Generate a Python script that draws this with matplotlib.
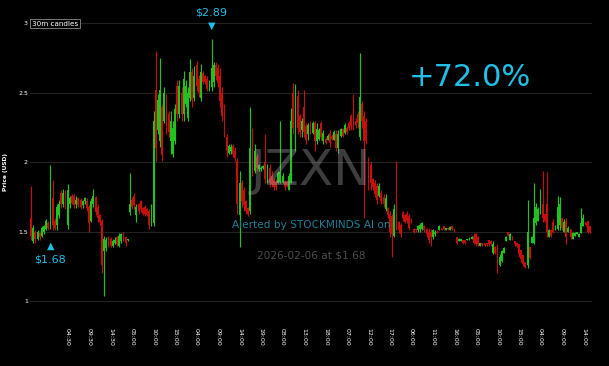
import matplotlib
matplotlib.use("Agg")
import matplotlib.pyplot as plt
import numpy as np

opens = [
    1.60, 1.43, 1.50, 1.45, 1.49, 1.47, 1.50, 1.52, 1.56, 1.58,
    1.74, 1.58, 1.55, 1.62, 1.78, 1.70, 1.78, 1.55, 1.70, 1.76,
    1.76, 1.70, 1.74, 1.73, 1.69, 1.72, 1.72, 1.68, 1.58, 1.70,
    1.75, 1.68, 1.62, 1.58, 1.36, 1.38, 1.46, 1.45, 1.40, 1.42,
    1.46, 1.40, 1.43, 1.49, 1.46, 1.44, 1.64, 1.73, 1.76, 1.62,
    1.70, 1.72, 1.67, 1.68, 1.66, 1.65, 1.55, 1.56, 2.52, 2.23,
    2.15, 2.40, 2.30, 2.45, 2.35, 2.15, 2.06, 2.15, 2.55, 2.35,
    2.50, 2.35, 2.42, 2.32, 2.46, 2.65, 2.46, 2.70, 2.60, 2.46,
    2.64, 2.62, 2.60, 2.52, 2.54, 2.58, 2.70, 2.68, 2.62, 2.50,
    2.38, 2.18, 2.07, 2.08, 2.12, 2.08, 2.01, 1.62, 1.85, 1.80,
    1.72, 1.67, 1.65, 2.20, 1.94, 2.04, 1.95, 1.95, 1.96, 2.00,
    1.86, 1.96, 1.90, 1.87, 1.86, 1.85, 1.86, 1.86, 1.86, 1.86,
    1.80, 1.85, 2.50, 2.10, 2.48, 2.33, 2.23, 2.40, 2.26, 2.20,
    2.29, 2.21, 2.28, 2.15, 2.17, 2.28, 2.15, 2.17, 2.16, 2.21,
    2.19, 2.16, 2.20, 2.10, 2.19, 2.24, 2.21, 2.25, 2.28, 2.33,
    2.35, 2.30, 2.35, 2.18, 2.42, 2.33, 2.30, 2.02, 1.98, 1.88,
    1.85, 1.83, 1.76, 1.78, 1.75, 1.66, 1.67, 1.63, 1.61, 1.47,
    1.60, 1.57, 1.55, 1.64, 1.62, 1.63, 1.61, 1.59, 1.52, 1.52,
    1.51, 1.52, 1.52, 1.54, 1.52, 1.50, 1.50, 1.46, 1.48, 1.50,
    1.51, 1.53, 1.54, 1.51, 1.53, 1.515, 1.54, 1.52, 1.46, 1.435,
    1.435, 1.44, 1.44, 1.44, 1.44, 1.45, 1.47, 1.48, 1.46, 1.40,
    1.415, 1.42, 1.42, 1.44, 1.43, 1.35, 1.39, 1.38, 1.26, 1.29,
    1.35, 1.43, 1.50, 1.44, 1.47, 1.43, 1.42, 1.41, 1.37, 1.33,
    1.28, 1.26, 1.39, 1.42, 1.42, 1.56, 1.58, 1.65, 1.70, 1.63,
    1.70, 1.46, 1.51, 1.57, 1.51, 1.52, 1.55, 1.60, 1.50, 1.58,
    1.50, 1.52, 1.45, 1.47, 1.48, 1.46, 1.49, 1.54, 1.57, 1.58, 1.54,
]
highs = [
    1.83, 1.55, 1.51, 1.51, 1.50, 1.54, 1.55, 1.59, 1.58, 1.98,
    1.87, 1.60, 1.70, 1.73, 1.80, 1.81, 1.80, 1.84, 1.76, 1.77,
    1.77, 1.76, 1.75, 1.74, 1.73, 1.75, 1.74, 1.69, 1.74, 1.81,
    1.76, 1.70, 1.63, 1.59, 1.47, 1.46, 1.47, 1.46, 1.45, 1.46,
    1.47, 1.49, 1.49, 1.50, 1.47, 1.45, 1.92, 1.75, 1.78, 1.70,
    1.71, 1.73, 1.68, 1.69, 1.67, 1.66, 1.70, 2.37, 2.80, 2.49,
    2.75, 2.42, 2.54, 2.49, 2.37, 2.37, 2.30, 2.42, 2.59, 2.59,
    2.54, 2.66, 2.59, 2.54, 2.74, 2.68, 2.69, 2.73, 2.63, 2.71,
    2.66, 2.63, 2.62, 2.59, 2.89, 2.72, 2.72, 2.71, 2.68, 2.54,
    2.42, 2.20, 2.13, 2.13, 2.13, 2.11, 2.03, 1.94, 1.87, 1.82,
    1.73, 1.68, 2.40, 2.25, 2.13, 2.06, 1.99, 1.97, 1.98, 2.20,
    1.99, 1.99, 1.94, 1.89, 1.88, 1.94, 2.30, 1.92, 1.87, 1.87,
    1.92, 2.39, 2.57, 2.56, 2.52, 2.35, 2.32, 2.52, 2.28, 2.28,
    2.30, 2.30, 2.30, 2.28, 2.25, 2.30, 2.23, 2.18, 2.20, 2.23,
    2.20, 2.23, 2.23, 2.23, 2.25, 2.25, 2.28, 2.26, 2.30, 2.35,
    2.49, 2.32, 2.37, 2.79, 2.44, 2.37, 2.32, 2.04, 2.01, 1.89,
    1.87, 1.85, 1.85, 1.80, 1.77, 1.77, 1.68, 1.65, 1.63, 1.70,
    2.01, 1.58, 1.56, 1.65, 1.63, 1.65, 1.63, 1.60, 1.53, 1.52,
    1.55, 1.56, 1.57, 1.55, 1.53, 1.53, 1.52, 1.52, 1.51, 1.51,
    1.55, 1.53, 1.54, 1.53, 1.53, 1.54, 1.54, 1.52, 1.46, 1.455,
    1.45, 1.44, 1.44, 1.45, 1.46, 1.47, 1.49, 1.49, 1.47, 1.42,
    1.42, 1.42, 1.42, 1.44, 1.44, 1.43, 1.40, 1.41, 1.34, 1.37,
    1.39, 1.47, 1.50, 1.49, 1.47, 1.43, 1.42, 1.41, 1.37, 1.33,
    1.28, 1.73, 1.39, 1.47, 1.85, 1.71, 1.68, 1.81, 1.94, 1.63,
    1.93, 1.52, 1.51, 1.59, 1.55, 1.76, 1.75, 1.60, 1.59, 1.60,
    1.54, 1.52, 1.50, 1.50, 1.50, 1.49, 1.67, 1.63, 1.57, 1.58, 1.54,
]
lows = [
    1.44, 1.42, 1.42, 1.44, 1.44, 1.46, 1.48, 1.51, 1.51, 1.52,
    1.51, 1.51, 1.51, 1.60, 1.67, 1.68, 1.66, 1.52, 1.67, 1.70,
    1.67, 1.67, 1.68, 1.66, 1.67, 1.70, 1.65, 1.50, 1.57, 1.68,
    1.62, 1.57, 1.55, 1.20, 1.04, 1.36, 1.39, 1.39, 1.39, 1.41,
    1.40, 1.39, 1.42, 1.43, 1.40, 1.43, 1.62, 1.66, 1.66, 1.57,
    1.63, 1.64, 1.62, 1.61, 1.61, 1.52, 1.54, 1.54, 2.01, 2.20,
    2.11, 2.01, 2.28, 2.20, 2.18, 2.06, 2.04, 2.13, 2.30, 2.32,
    2.30, 2.30, 2.40, 2.30, 2.44, 2.40, 2.44, 2.51, 2.47, 2.44,
    2.56, 2.56, 2.51, 2.51, 2.51, 2.54, 2.59, 2.54, 2.40, 2.30,
    2.18, 2.04, 2.06, 2.06, 2.04, 2.01, 1.63, 1.39, 1.68, 1.65,
    1.63, 1.61, 1.63, 1.90, 1.92, 1.94, 1.94, 1.94, 1.95, 1.85,
    1.85, 1.82, 1.82, 1.80, 1.80, 1.85, 1.85, 1.85, 1.80, 1.82,
    1.80, 1.85, 2.20, 2.08, 2.20, 2.18, 2.18, 2.18, 2.13, 2.16,
    2.20, 2.20, 2.08, 2.13, 2.16, 2.16, 2.13, 2.13, 2.16, 2.11,
    2.16, 2.16, 2.08, 2.07, 2.18, 2.18, 2.20, 2.20, 2.23, 2.23,
    2.23, 2.25, 2.25, 2.16, 2.25, 1.60, 2.13, 1.80, 1.80, 1.80,
    1.75, 1.70, 1.75, 1.70, 1.68, 1.65, 1.60, 1.46, 1.32, 1.46,
    1.51, 1.49, 1.46, 1.58, 1.56, 1.56, 1.51, 1.56, 1.49, 1.50,
    1.50, 1.50, 1.51, 1.50, 1.46, 1.42, 1.40, 1.45, 1.47, 1.49,
    1.51, 1.51, 1.515, 1.51, 1.515, 1.515, 1.515, 1.50, 1.41, 1.435,
    1.435, 1.41, 1.41, 1.44, 1.44, 1.45, 1.41, 1.40, 1.40, 1.40,
    1.40, 1.40, 1.40, 1.40, 1.40, 1.34, 1.34, 1.20, 1.25, 1.28,
    1.35, 1.43, 1.47, 1.44, 1.44, 1.40, 1.39, 1.32, 1.28, 1.25,
    1.235, 1.24, 1.30, 1.42, 1.41, 1.55, 1.58, 1.63, 1.57, 1.57,
    1.46, 1.46, 1.46, 1.49, 1.51, 1.51, 1.51, 1.51, 1.50, 1.41,
    1.50, 1.45, 1.45, 1.47, 1.48, 1.46, 1.49, 1.54, 1.54, 1.49, 1.49,
]
closes = [
    1.47, 1.53, 1.45, 1.50, 1.46, 1.53, 1.54, 1.58, 1.53, 1.80,
    1.55, 1.53, 1.68, 1.70, 1.70, 1.78, 1.68, 1.80, 1.74, 1.71,
    1.69, 1.73, 1.69, 1.68, 1.72, 1.74, 1.67, 1.56, 1.72, 1.76,
    1.64, 1.60, 1.57, 1.26, 1.45, 1.44, 1.41, 1.40, 1.43, 1.44,
    1.41, 1.47, 1.48, 1.45, 1.42, 1.45, 1.70, 1.68, 1.69, 1.68,
    1.65, 1.66, 1.63, 1.63, 1.62, 1.55, 1.68, 2.30, 2.10, 2.45,
    2.52, 2.05, 2.50, 2.25, 2.22, 2.30, 2.25, 2.38, 2.35, 2.55,
    2.35, 2.60, 2.55, 2.50, 2.65, 2.45, 2.62, 2.55, 2.50, 2.65,
    2.58, 2.58, 2.53, 2.57, 2.68, 2.70, 2.62, 2.57, 2.44, 2.33,
    2.21, 2.08, 2.12, 2.11, 2.06, 2.03, 1.70, 1.85, 1.72, 1.69,
    1.65, 1.63, 2.10, 1.95, 2.08, 1.96, 1.98, 1.96, 1.97, 1.88,
    1.95, 1.85, 1.84, 1.82, 1.82, 1.92, 1.93, 1.90, 1.82, 1.83,
    1.90, 2.30, 2.25, 2.45, 2.25, 2.22, 2.30, 2.22, 2.16, 2.27,
    2.22, 2.28, 2.15, 2.24, 2.23, 2.18, 2.21, 2.14, 2.19, 2.14,
    2.17, 2.22, 2.10, 2.20, 2.24, 2.19, 2.27, 2.22, 2.25, 2.26,
    2.27, 2.27, 2.28, 2.47, 2.30, 2.15, 2.15, 1.83, 1.85, 1.82,
    1.77, 1.73, 1.83, 1.72, 1.70, 1.74, 1.62, 1.50, 1.48, 1.66,
    1.53, 1.51, 1.48, 1.60, 1.57, 1.58, 1.53, 1.57, 1.50, 1.51,
    1.54, 1.55, 1.56, 1.51, 1.48, 1.44, 1.46, 1.51, 1.50, 1.49,
    1.54, 1.515, 1.52, 1.53, 1.52, 1.535, 1.52, 1.505, 1.42, 1.45,
    1.445, 1.415, 1.42, 1.45, 1.455, 1.465, 1.42, 1.41, 1.41, 1.415,
    1.405, 1.405, 1.41, 1.41, 1.41, 1.41, 1.35, 1.24, 1.32, 1.36,
    1.38, 1.46, 1.475, 1.48, 1.445, 1.41, 1.395, 1.34, 1.30, 1.27,
    1.245, 1.50, 1.31, 1.46, 1.60, 1.68, 1.66, 1.72, 1.60, 1.58,
    1.50, 1.51, 1.47, 1.50, 1.54, 1.68, 1.70, 1.53, 1.57, 1.46,
    1.53, 1.46, 1.49, 1.49, 1.495, 1.48, 1.56, 1.60, 1.55, 1.50, 1.50,
]

tick_labels = ["04:30", "09:30", "14:30", "05:00", "10:00", "15:00", "04:00",
               "09:00", "14:00", "19:00", "08:00", "13:00", "18:00", "07:00",
               "12:00", "17:00", "06:00", "11:00", "16:00", "05:00", "10:00",
               "15:00", "04:00", "09:00", "14:00"]
tick_idx = [17 + 10 * k for k in range(len(tick_labels))]

y_ticks = [1, 1.5, 2, 2.5, 3]
y_tick_labels = ["1", "1.5", "2", "2.5", "3"]

peak_idx, peak_price = 84, 2.89
alert_idx, alert_price = 9, 1.68
pct_change = "+72.0%"
ticker = "JZXN"

GREEN = "#1fc21f"
RED = "#c40f0f"
CYAN = "#1fbfe8"

o = np.array(opens); h = np.array(highs); l = np.array(lows); c = np.array(closes)
x = np.arange(len(o))
up = c >= o
cols = np.where(up, GREEN, RED)

fig = plt.figure(figsize=(6.09, 3.66), dpi=100, facecolor="black")
ax = fig.add_axes([30 / 609, 1 - 310 / 366, 562 / 609, 291.5 / 366])
ax.set_facecolor("black")
ax.set_xlim(-0.5, 261)
ax.set_ylim(0.936, 3.035)

ax.vlines(x, l, h, colors=cols, linewidth=0.85, zorder=2)
body_bottom = np.minimum(o, c)
body_h = np.maximum(np.abs(c - o), 0.007)
ax.bar(x, body_h, bottom=body_bottom, width=0.85, color=cols, linewidth=0, zorder=3)

ax.set_yticks(y_ticks)
ax.set_yticklabels(y_tick_labels)
ax.yaxis.grid(True, color="#232323", linewidth=0.8, zorder=0)
ax.set_axisbelow(True)
ax.tick_params(axis="y", length=0, pad=1.5, labelsize=4.5, labelcolor="white")
ax.set_xticks(tick_idx)
ax.set_xticklabels(tick_labels, rotation=-90)
ax.tick_params(axis="x", length=0, pad=13, labelsize=4.5, labelcolor="white")
for s in ax.spines.values():
    s.set_visible(False)

fig.text(5.5 / 609, 1 - 172 / 366, "Price (USD)", rotation=90, fontsize=4.2,
         color="white", ha="center", va="center", fontweight="bold")
fig.text(32 / 609, 1 - 23.5 / 366, "30m candles", fontsize=5.2, color="white",
         ha="left", va="center",
         bbox=dict(boxstyle="square,pad=0.25", fc="black", ec="#8a8a8a", lw=0.6))

# peak and alert markers
ax.annotate("\u25BC", xy=(peak_idx, highs[peak_idx]), xytext=(0, 9), textcoords="offset points",
            ha="center", va="center", color=CYAN, fontsize=7)
ax.annotate(f"${peak_price:.2f}", xy=(peak_idx, highs[peak_idx]), xytext=(0, 18.5),
            textcoords="offset points", ha="center", va="center", color=CYAN, fontsize=8)
ax.annotate("\u25B2", xy=(alert_idx, lows[alert_idx]), xytext=(0, -12), textcoords="offset points",
            ha="center", va="center", color=CYAN, fontsize=7)
ax.annotate(f"${alert_price:.2f}", xy=(alert_idx, lows[alert_idx]), xytext=(0, -22),
            textcoords="offset points", ha="center", va="center", color=CYAN, fontsize=8)

fig.text(311 / 609, 1 - 171 / 366, ticker, fontsize=36, color="#b0b0b0", alpha=0.35,
         ha="center", va="center", zorder=10)
fig.text(311 / 609, 1 - 225 / 366, "Alerted by STOCKMINDS AI on", fontsize=7.6,
         color="#1d7f94", ha="center", va="center", zorder=10)
fig.text(311 / 609, 1 - 255 / 366, "2026-02-06 at $1.68", fontsize=7.6,
         color="#4d4d4d", ha="center", va="center", zorder=10)
fig.text(470 / 609, 1 - 77 / 366, pct_change, fontsize=22, color=CYAN,
         ha="center", va="center", zorder=10)

fig.savefig("out.png", dpi=100, facecolor="black")
